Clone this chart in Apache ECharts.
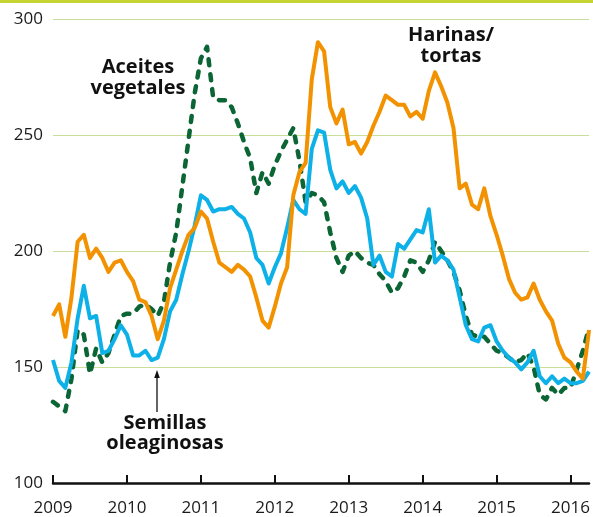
<!DOCTYPE html>
<html>
<head>
<meta charset="utf-8">
<script src="https://cdn.jsdelivr.net/npm/echarts@6/dist/echarts.min.js"></script>
<style>
  html, body { margin: 0; padding: 0; background: #ffffff; }
  #chart { width: 593px; height: 517px; }
</style>
</head>
<body>
<div id="chart"></div>
<script>
// Monthly series, January 2009 to April 2016
const startYear = 2009;
const yearTicks = [2009, 2010, 2011, 2012, 2013, 2014, 2015, 2016];
const yTicks = [100, 150, 200, 250, 300];

// Harinas/tortas (orange)
const harinas = [
  172, 177, 163, 180, 204, 207, 197, 201, 197, 191, 195, 196,
  191, 187, 179, 178, 172, 162, 170, 184, 192, 200, 207, 210,
  217, 214, 204, 195, 193, 191, 194, 192, 189, 180, 170, 167,
  176, 186, 193, 224, 234, 238, 274, 290, 286, 262, 255, 261,
  246, 247, 242, 247, 254, 260, 267, 265, 263, 263, 258, 260,
  257, 269, 277, 271, 264, 253, 227, 229, 220, 218, 227, 215,
  207, 198, 188, 182, 179, 180, 186, 179, 174, 170, 160, 154,
  152, 148, 145, 166
];

// Semillas oleaginosas (blue)
const semillas = [
  153, 144, 141, 152, 171, 185, 171, 172, 156, 157, 162, 168,
  164, 155, 155, 157, 153, 154, 162, 174, 179, 190, 200, 211,
  224, 222, 217, 218, 218, 219, 216, 214, 208, 197, 194, 186,
  193, 199, 210, 222, 218, 216, 244, 252, 251, 235, 227, 230,
  225, 228, 223, 214, 194, 198, 191, 189, 203, 201, 205, 209,
  208, 218, 195, 198, 196, 192, 180, 168, 162, 161, 167, 168,
  161, 157, 154, 152, 149, 152, 157, 146, 143, 146, 143, 145,
  143, 143, 144, 148
];

// Aceites vegetales (green, dotted)
const aceites = [
  135, 133, 131, 145, 166, 164, 147, 158, 152, 156, 164, 172,
  173, 173, 176, 177, 175, 172, 178, 195, 208, 228, 248, 268,
  283, 288, 266, 265, 265, 262, 255, 247, 240, 225, 234, 229,
  237, 243, 248, 253, 239, 221, 225, 224, 221, 208, 197, 191,
  198, 200, 197, 195, 194, 190, 187, 182, 184, 189, 196, 195,
  191, 196, 204, 200, 196, 191, 183, 172, 164, 163, 163, 160,
  157, 156, 154, 152, 153, 156, 150, 138, 136, 141, 138, 141,
  141, 149, 157, 167
];

function toPoints(values) {
  return values.map((v, i) => [startYear + i / 12, v]);
}

const FONT = "'Open Sans', 'Liberation Sans', sans-serif";
const chart = echarts.init(document.getElementById('chart'), null, { renderer: 'canvas' });

chart.setOption({
  animation: false,
  backgroundColor: '#ffffff',
  grid: { left: 53, right: 0, top: 19, bottom: 31, containLabel: false },
  xAxis: {
    type: 'value',
    min: 2009,
    max: 2016.25,
    interval: 1,
    axisLine: { show: true, onZero: false, lineStyle: { color: '#111111', width: 2.5 } },
    axisTick: { show: true, inside: true, length: 8, lineStyle: { color: '#111111', width: 2 }, customValues: yearTicks },
    axisLabel: {
      show: true, margin: 17, color: '#1a1a1a', fontSize: 17, fontFamily: FONT,
      customValues: yearTicks,
      formatter: v => String(Math.round(v))
    },
    splitLine: { show: false }
  },
  yAxis: {
    type: 'value',
    min: 100,
    max: 300,
    interval: 50,
    axisLine: { show: false },
    axisTick: { show: false },
    axisLabel: { color: '#1a1a1a', fontSize: 17, fontFamily: FONT, margin: 10, padding: [6, 0, 0, 0] },
    splitLine: { show: true, lineStyle: { color: '#cadf9a', width: 1.2 } }
  },
  series: [
    {
      name: 'Aceites vegetales', type: 'line', data: toPoints(aceites),
      symbol: 'none', z: 2,
      lineStyle: { color: '#0b6534', width: 4.5, type: [6, 9], cap: 'round', join: 'round' }
    },
    {
      name: 'Semillas oleaginosas', type: 'line', data: toPoints(semillas),
      symbol: 'none', z: 3,
      lineStyle: { color: '#0db1e8', width: 4, join: 'round' }
    },
    {
      name: 'Harinas/tortas', type: 'line', data: toPoints(harinas),
      symbol: 'none', z: 4,
      lineStyle: { color: '#f39200', width: 4, join: 'round' }
    }
  ],
  graphic: [
    { type: 'rect', left: 0, top: 0, z: 10, shape: { width: 593, height: 3 }, style: { fill: '#c6d432' } },
    {
      type: 'text', x: 138, y: 78, z: 10,
      style: { text: 'Aceites\nvegetales', font: "bold 20px 'Open Sans', sans-serif", fill: '#111111',
               align: 'center', verticalAlign: 'middle', lineHeight: 21 }
    },
    {
      type: 'text', x: 451, y: 46, z: 10,
      style: { text: 'Harinas/\ntortas', font: "bold 20px 'Open Sans', sans-serif", fill: '#111111',
               align: 'center', verticalAlign: 'middle', lineHeight: 21 }
    },
    {
      type: 'text', x: 165, y: 433, z: 10,
      style: { text: 'Semillas\noleaginosas', font: "bold 20px 'Open Sans', sans-serif", fill: '#111111',
               align: 'center', verticalAlign: 'middle', lineHeight: 20 }
    },
    {
      type: 'line', z: 10,
      shape: { x1: 157, y1: 412, x2: 157, y2: 376 },
      style: { stroke: '#111111', lineWidth: 1.3 }
    },
    {
      type: 'polygon', z: 10,
      shape: { points: [[157, 370], [154.2, 378], [159.8, 378]] },
      style: { fill: '#111111' }
    }
  ]
});
</script>
</body>
</html>
